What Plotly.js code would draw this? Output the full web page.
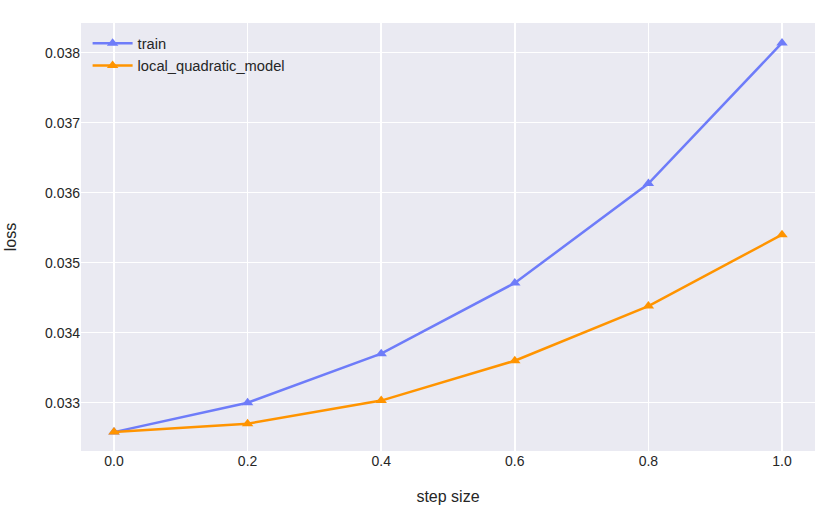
<!DOCTYPE html>
<html>
<head>
<meta charset="utf-8">
<script src="https://cdn.plot.ly/plotly-3.0.1.min.js"></script>
<style>html,body{margin:0;padding:0;background:#fff;}#chart{width:830px;height:516px;}</style>
</head>
<body>
<div id="chart"></div>
<script>
const stepSize = [0.0, 0.2, 0.4, 0.6, 0.8, 1.0];
const trainLoss = [0.03258, 0.03300, 0.03370, 0.03471, 0.03613, 0.03814];
const quadLoss = [0.03258, 0.03270, 0.03303, 0.03360, 0.03438, 0.03540];
const seriesNames = ["train", "local_quadratic_model"];
const xTicks = [0.0, 0.2, 0.4, 0.6, 0.8, 1.0];
const xTickLabels = ["0.0", "0.2", "0.4", "0.6", "0.8", "1.0"];
const yTicks = [0.033, 0.034, 0.035, 0.036, 0.037, 0.038];
const yTickLabels = ["0.033", "0.034", "0.035", "0.036", "0.037", "0.038"];

const traces = [
  {x: stepSize, y: trainLoss, name: seriesNames[0], type: "scatter", mode: "lines+markers",
   line: {color: "#6E7CF9", width: 2.5}, marker: {symbol: "triangle-up", size: 10, color: "#6E7CF9"}},
  {x: stepSize, y: quadLoss, name: seriesNames[1], type: "scatter", mode: "lines+markers",
   line: {color: "#FF9400", width: 2.5}, marker: {symbol: "triangle-up", size: 10, color: "#FF9400"}}
];

const layout = {
  width: 830, height: 516,
  margin: {l: 81, r: 15, t: 23, b: 65},
  paper_bgcolor: "#ffffff",
  plot_bgcolor: "#EAEAF2",
  font: {family: "Liberation Sans, Arial, sans-serif", size: 14, color: "#262626"},
  xaxis: {range: [-0.0494, 1.0494], tickvals: xTicks, ticktext: xTickLabels,
          showgrid: true, gridcolor: "#ffffff", gridwidth: 1.5, zeroline: false, showline: false,
          ticks: "", ticklen: 0, title: {text: "step size", font: {size: 16}, standoff: 22}},
  yaxis: {range: [0.03231, 0.038424], tickvals: yTicks, ticktext: yTickLabels,
          showgrid: true, gridcolor: "#ffffff", gridwidth: 1.5, zeroline: false, showline: false,
          ticks: "", ticklen: 0, title: {text: "loss", font: {size: 16}, standoff: 24}},
  showlegend: true,
  legend: {x: 0.009, y: 0.99, xanchor: "left", yanchor: "top", bgcolor: "rgba(0,0,0,0)",
           font: {size: 14.7}, itemwidth: 40, tracegroupgap: 0}
};

Plotly.newPlot("chart", traces, layout, {displayModeBar: false, staticPlot: true});
</script>
</body>
</html>
